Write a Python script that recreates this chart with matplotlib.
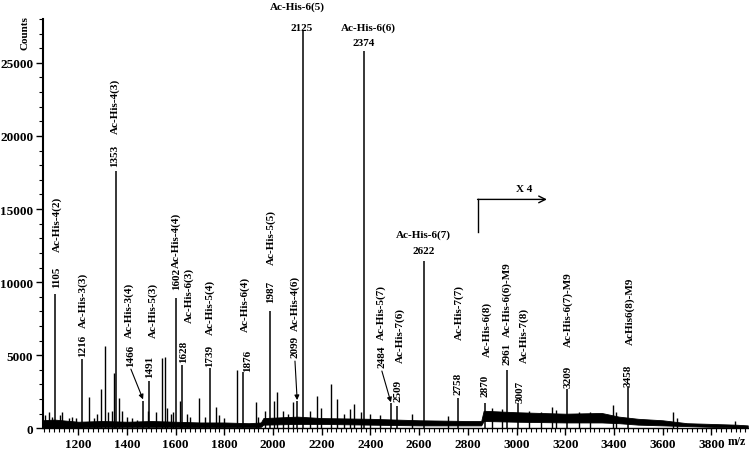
"""
MALDI spectrum of Ac-His peptides, redrawn
"""

import matplotlib
matplotlib.use('Agg')
import matplotlib.pyplot as plt
from matplotlib.ticker import MultipleLocator

plt.rcParams['font.family'] = ['Liberation Serif', 'DejaVu Serif']
plt.rcParams['font.weight'] = 'bold'

# labelled peaks (m/z, counts)
peak_mz = [1105, 1216, 1353, 1466, 1491, 1602, 1628, 1739, 1876, 1987, 2099,
           2125, 2374, 2484, 2509, 2622, 2758, 2870, 2961, 3007, 3209, 3458]
peak_counts = [9200, 4750, 17600, 1900, 3250, 8900, 4300, 4100, 3850, 8000, 1850,
               27200, 25800, 1700, 1500, 11450, 2100, 1700, 4000, 1750, 2700, 2900]
peak_names = ['Ac-His-4(2)', 'Ac-His-3(3)', 'Ac-His-4(3)', 'Ac-His-3(4)', 'Ac-His-5(3)',
              'Ac-His-4(4)', 'Ac-His-6(3)', 'Ac-His-5(4)', 'Ac-His-6(4)', 'Ac-His-5(5)',
              'Ac-His-4(6)', 'Ac-His-6(5)', 'Ac-His-6(6)', 'Ac-His-5(7)', 'Ac-His-7(6)',
              'Ac-His-6(7)', 'Ac-His-7(7)', 'Ac-His-6(8)', 'Ac-His-6(6)-M9', 'Ac-His-7(8)',
              'Ac-His-6(7)-M9', 'AcHis6(8)-M9']

# smaller unlabelled peaks
minor_mz = [1065, 1080, 1090, 1125, 1135, 1160, 1175, 1190, 1244, 1265, 1278, 1295,
            1310, 1320, 1340, 1346, 1368, 1380, 1400, 1420, 1440, 1485, 1520, 1544,
            1558, 1565, 1580, 1590, 1617, 1645, 1660, 1697, 1720, 1765, 1780, 1800,
            1853, 1929, 1940, 1965, 2005, 2015, 2040, 2060, 2080, 2150, 2179, 2195,
            2238, 2261, 2290, 2318, 2332, 2360, 2400, 2440, 2570, 2717, 2900, 2940,
            3050, 3099, 3144, 3161, 3257, 3300, 3395, 3408, 3642, 3660, 3896]
minor_counts = [900, 1100, 800, 900, 1100, 700, 800, 700, 2160, 700, 1000, 2680,
                5640, 1100, 1200, 3800, 2100, 1200, 800, 700, 600, 1200, 1100, 4780,
                4850, 1400, 1000, 1100, 1890, 1000, 800, 2070, 800, 1450, 900, 700,
                4000, 1780, 800, 1200, 1900, 2460, 1200, 1000, 1780, 1200, 2230, 1400,
                3030, 2000, 1000, 1300, 1660, 1100, 1000, 900, 980, 860, 1400, 1300,
                1200, 1090, 1430, 1250, 1140, 1100, 1590, 1140, 1090, 700, 480]

# noise band of the baseline (m/z, low, high)
base_mz = [1054, 1100, 1200, 1300, 1400, 1500, 1600, 1700, 1800, 1900, 1950, 1960,
           2100, 2200, 2400, 2600, 2800, 2855, 2865, 3000, 3200, 3350, 3420, 3500,
           3600, 3700, 3800, 3900, 3950]
base_lo = [0, 50, 50, 100, 100, 100, 100, 80, 80, 80, 100, 250,
           300, 300, 250, 200, 200, 200, 500, 450, 400, 400, 350, 250,
           200, 150, 100, 50, 50]
base_hi = [550, 600, 450, 500, 450, 500, 450, 400, 400, 350, 400, 700,
           800, 700, 650, 550, 500, 500, 1200, 1100, 1000, 1050, 800, 650,
           550, 350, 300, 250, 200]

# label layout: number (x, y bottom), name (x, y bottom), all in data units
vert_layout = {
    1105: (1112, 9650, 1112, 12130),
    1216: (1218, 4940, 1221, 6920),
    1353: (1350, 17935, 1350, 20220),
    1466: (1416, 4255, 1410, 6240),
    1491: (1494, 3500, 1506, 6240),
    1602: (1605, 9515, 1601, 11020),
    1628: (1634, 4530, 1654, 7260),
    1739: (1740, 4255, 1740, 6440),
    1876: (1895, 3930, 1884, 6670),
    1987: (1990, 8630, 1990, 11220),
    2099: (2090, 4870, 2090, 6710),
    2484: (2447, 4190, 2443, 6100),
    2509: (2513, 1870, 2521, 4530),
    2758: (2760, 2340, 2764, 6100),
    2870: (2871, 2230, 2879, 4960),
    2961: (2961, 4390, 2961, 6330),
    3007: (3015, 1800, 3031, 4530),
    3209: (3212, 2830, 3212, 5640),
    3458: (3460, 2910, 3467, 5760),
}
horiz_layout = {
    2125: (2118, 27450, 2100, 28850),
    2374: (2373, 26380, 2390, 27440),
    2622: (2618, 12180, 2616, 13270),
}
arrow_from = {1466: (1416, 4050), 2099: (2090, 4600), 2484: (2447, 3920)}

fig = plt.figure(figsize=(7.49, 4.52), dpi=100)
ax = fig.add_axes([0.0574, 0.0502, 0.9426, 0.9055])

ax.fill_between(base_mz, base_lo, base_hi, color='black', lw=0.6)
ax.vlines(minor_mz, 0, minor_counts, color='black', lw=1.0)
ax.vlines(peak_mz, 0, peak_counts, color='black', lw=1.1)

fs = 8
for mz, name in zip(peak_mz, peak_names):
    if mz in vert_layout:
        nx, ny, tx, ty = vert_layout[mz]
        ax.text(nx, ny, str(mz), rotation=90, ha='center', va='bottom', fontsize=fs)
        ax.text(tx, ty, name, rotation=90, ha='center', va='bottom', fontsize=fs)
    else:
        nx, ny, tx, ty = horiz_layout[mz]
        ax.text(nx, ny, str(mz), ha='center', va='center', fontsize=fs)
        ax.text(tx, ty, name, ha='center', va='center', fontsize=fs)

for mz, cnt in zip(peak_mz, peak_counts):
    if mz in arrow_from:
        ax.annotate('', xy=(mz, cnt + 80), xytext=arrow_from[mz],
                    arrowprops=dict(arrowstyle='-|>', color='black', lw=0.8,
                                    mutation_scale=7, shrinkA=0, shrinkB=0))

# X 4 magnification marker
ax.plot([2840, 2840], [13400, 15660], color='black', lw=1.0)
ax.annotate('', xy=(3125, 15660), xytext=(2840, 15660),
            arrowprops=dict(arrowstyle='->', color='black', lw=1.0,
                            mutation_scale=12, shrinkA=0, shrinkB=0))
ax.text(3030, 16380, 'X 4', ha='center', va='center', fontsize=fs)

ax.set_xlim(1055, 3955)
ax.set_ylim(0, 28000)
ax.xaxis.set_major_locator(MultipleLocator(200))
ax.xaxis.set_minor_locator(MultipleLocator(20))
ax.yaxis.set_major_locator(MultipleLocator(5000))
ax.yaxis.set_minor_locator(MultipleLocator(1000))
ax.xaxis.set_major_formatter(lambda v, p: '' if v < 1100 else f'{v:.0f}')
ax.tick_params(axis='both', which='major', length=5, width=1, labelsize=9.5, pad=2)
ax.tick_params(axis='both', which='minor', length=3, width=0.8)
for lab in ax.get_xticklabels() + ax.get_yticklabels():
    lab.set_fontweight('bold')

for side in ['top', 'right']:
    ax.spines[side].set_visible(False)
ax.spines['left'].set_linewidth(1.5)
ax.spines['bottom'].set_linewidth(1.0)

fig.text(25 / 749, 1 - 33 / 452, 'Counts', rotation=90, ha='center', va='center',
         fontsize=8, fontweight='bold')
fig.text(737 / 749, 1 - 442 / 452, 'm/z', ha='center', va='center',
         fontsize=8.5, fontweight='bold')

fig.savefig('out.png', dpi=100)
